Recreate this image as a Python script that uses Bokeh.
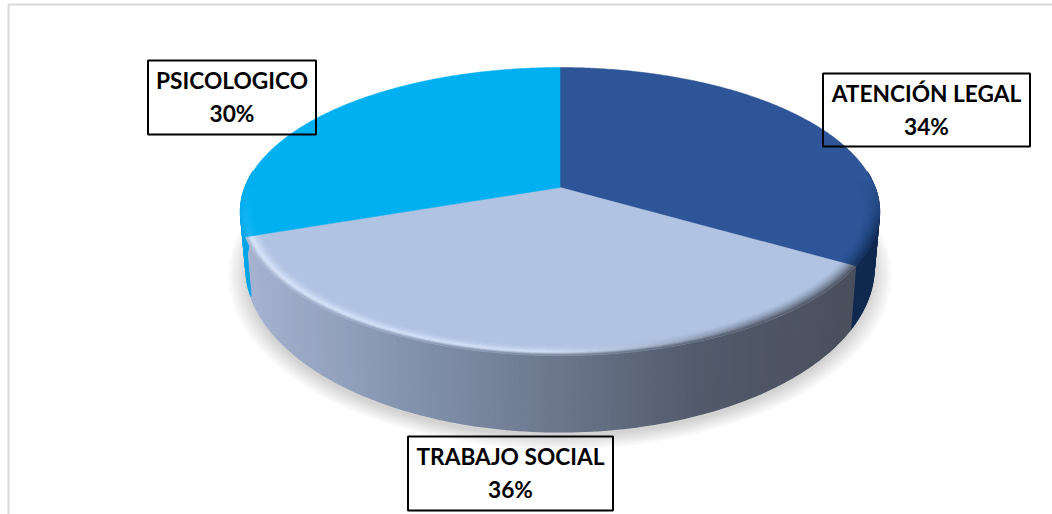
import numpy as np
from bokeh.plotting import figure
from bokeh.models import ColumnDataSource, Range1d
from bokeh.core.properties import value
from bokeh.embed import file_html
from bokeh.resources import INLINE

# --- data ---
categories = ["ATENCIÓN LEGAL", "TRABAJO SOCIAL", "PSICOLOGICO"]
shares = [33.6, 36.0, 30.4]
face_colors = ["#2E5597", "#B0C3E3", "#00B0F0"]
side_colors = ["#11294F", None, "#00A6E8"]
label_centers_x = [926.0, 510.0, 231.5]
label_centers_y = [109.5, 473.0, 97.0]
label_widths = [207, 205, 168]
label_heights = [73, 74, 74]

# --- projection of the pie disc (perspective view) ---
CX, CY, A, B, K, H = 559.5, 187.0, 315.0, 140.0, 1 / 6, 53.0
NARROW = 0.017  # the lower disc looks slightly narrower than the upper one


def project(theta, r=1.0, drop=0.0):
    u, v = r * np.sin(theta), r * np.cos(theta)
    w = 1 + K * v
    return CX + A * u / w * (1 - NARROW * drop), CY - B * v / w + drop * H / w ** 2


def rgb(h):
    return np.array([int(h[i:i + 2], 16) for i in (1, 3, 5)], float)


def hexc(c):
    c = np.clip(np.round(c), 0, 255).astype(int)
    return "#%02x%02x%02x" % tuple(c)


def social_side(x):
    xs = [245, 400, 560, 700, 860]
    cs = np.array([rgb("#A6B3D0"), rgb("#8494AF"), rgb("#6B768B"), rgb("#525A6B"), rgb("#4A4F5C")])
    return np.array([np.interp(x, xs, cs[:, i]) for i in range(3)])


edges = np.radians(np.concatenate([[0], np.cumsum(shares)]) * 3.6)

p = figure(width=1052, height=514, output_backend="svg", toolbar_location=None,
           x_range=Range1d(0, 1052), y_range=Range1d(514, 0), min_border=0,
           outline_line_color=None, margin=0, background_fill_color="white")
p.axis.visible = False
p.grid.visible = False

# outer frame of the picture
p.line([8, 8, 1052], [514, 4, 4], line_color="#D9D9D9", line_width=2)

# soft shadow below the pie
t_all = np.linspace(0, 2 * np.pi, 240)
for r in np.linspace(1.055, 1.0, 11):
    x, y = project(t_all, r, 1.0)
    p.patch(x, y + 5, fill_color="#000000", fill_alpha=0.016, line_color=None)

# side wall
sx, sy, sc = [], [], []
for i in range(3):
    ts = np.linspace(edges[i], edges[i + 1], 130)
    for a, b in zip(ts[:-1], ts[1:]):
        if np.cos((a + b) / 2) > 0.12:
            continue
        xa, ya = project(a)
        xb, yb = project(b)
        xc, yc = project(b, 1.0, 1.0)
        xd, yd = project(a, 1.0, 1.0)
        sx.append([xa, xb, xc, xd])
        sy.append([ya, yb, yc, yd])
        col = side_colors[i]
        sc.append(hexc(social_side((xa + xb) / 2)) if col is None else col)
p.patches("x", "y", source=ColumnDataSource(dict(x=sx, y=sy, c=sc)),
          fill_color="c", line_color="c", line_width=1.5)

# top faces
for i in range(3):
    ts = np.linspace(edges[i], edges[i + 1], 200)
    x, y = project(ts)
    p.patch(np.r_[CX, x], np.r_[CY, y], fill_color=face_colors[i], line_color=face_colors[i], line_width=0.5)

# bevel along the outer rim of the faces
rx, ry, rc = [], [], []
bands = np.linspace(0.95, 1.0, 11)
for i in range(3):
    ts = np.linspace(edges[i], edges[i + 1], 130)
    face = rgb(face_colors[i])
    for a, b in zip(ts[:-1], ts[1:]):
        m = (a + b) / 2
        v = np.cos(m)
        strength = np.clip((0.05 - v) / 0.4, 0, 1)
        if strength <= 0:
            continue
        xm, _ = project(m)
        if i == 1:
            outer = social_side(xm)
            peak = 0.9 * np.clip((760 - xm) / 220, 0, 1)
            light = np.array([224, 235, 255.0])
        elif i == 0:
            outer, peak, light = rgb("#14305C"), 0.0, face
        else:
            outer, peak, light = rgb("#10AAE8"), 0.5, rgb("#30C0F8")
        for j, (r0, r1) in enumerate(zip(bands[:-1], bands[1:])):
            t = (j + 0.5) / (len(bands) - 1)
            # plain fade from the face to the wall colour, mixed with a light ridge
            dark = face + (outer - face) * t ** 1.5
            ridge = (face + (light - face) * (t / 0.7) ** 1.5) if t < 0.7 else (light + (outer - light) * ((t - 0.7) / 0.3))
            c = dark + (ridge - dark) * peak
            c = face + (c - face) * strength
            x0, y0 = project(a, r0)
            x1, y1 = project(b, r0)
            x2, y2 = project(b, r1)
            x3, y3 = project(a, r1)
            rx.append([x0, x1, x2, x3])
            ry.append([y0, y1, y2, y3])
            rc.append(hexc(c))
p.patches("x", "y", source=ColumnDataSource(dict(x=rx, y=ry, c=rc)),
          fill_color="c", line_color="c", line_width=0.6)

# data labels
lab = ColumnDataSource(dict(
    x=label_centers_x, y=label_centers_y, w=label_widths, h=label_heights,
    name=categories, pct=[f"{round(s)}%" for s in shares],
    y1=[c - 17 for c in label_centers_y], y2=[c + 16 for c in label_centers_y]))
p.rect("x", "y", width="w", height="h", source=lab, fill_color=None, line_color="black", line_width=2)
for col, name in (("name", "y1"), ("pct", "y2")):
    p.text("x", name, text=col, source=lab, text_font=value("Lato"), text_font_style="bold",
           text_font_size="22.7px", text_color="black", text_align="center", text_baseline="middle")

open("out.html", "w").write(file_html(p, INLINE))
